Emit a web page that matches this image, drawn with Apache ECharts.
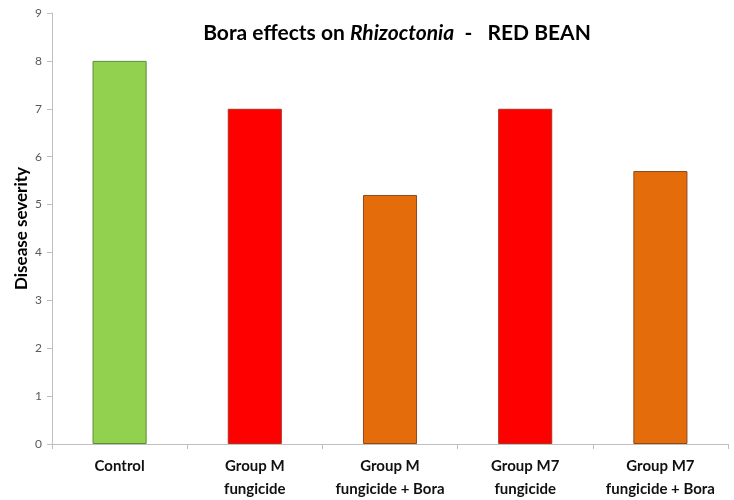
<!DOCTYPE html>
<html><head><meta charset="utf-8">
<script src="https://cdn.jsdelivr.net/npm/echarts@6/dist/echarts.min.js"></script>
<style>html,body{margin:0;padding:0;background:#fff}#c{width:734px;height:500px}</style>
</head><body><div id="c"></div>
<script>
const categories = ['Control', 'Group M\nfungicide', 'Group M\nfungicide + Bora', 'Group M7\nfungicide', 'Group M7\nfungicide + Bora'];
const severity = [8, 7, 5.2, 7, 5.7];
const barColors = ['#92D050', '#FF0000', '#E46C0A', '#FF0000', '#E46C0A'];
const borderColors = ['#5E8A34', '#B03020', '#8A4A1E', '#B03020', '#8A4A1E'];
const yTicks = [0, 9, 1];

const chart = echarts.init(document.getElementById('c'));
chart.setOption({
  animation: false,
  backgroundColor: '#fff',
  textStyle: { fontFamily: 'Lato' },
  title: {
    text: '{b|Bora effects on }{i|Rhizoctonia}{b|  -   RED BEAN}',
    left: 392, top: 18, textAlign: 'center',
    textStyle: {
      rich: {
        b: { fontSize: 21, fontWeight: 'bold', color: '#000', fontFamily: 'Lato' },
        i: { fontSize: 21, fontWeight: 'bold', fontStyle: 'italic', color: '#000', fontFamily: 'Lato' }
      }
    }
  },
  grid: { left: 52, right: 6, top: 13, bottom: 56, containLabel: false, outerBoundsMode: 'none' },
  xAxis: {
    type: 'category',
    data: categories,
    axisLine: { lineStyle: { color: '#BFBFBF', width: 1 } },
    axisTick: { show: true, length: 5, lineStyle: { color: '#BFBFBF' } },
    axisLabel: { color: '#111', fontWeight: 'bold', fontSize: 15, lineHeight: 23, margin: 11, interval: 0, fontFamily: 'Lato' }
  },
  yAxis: {
    type: 'value',
    min: yTicks[0], max: yTicks[1], interval: yTicks[2],
    name: 'Disease severity',
    nameLocation: 'middle', nameGap: 22, nameMoveOverlap: false,
    nameTextStyle: { fontSize: 17, fontWeight: 'bold', color: '#000', fontFamily: 'Lato' },
    axisLine: { show: true, lineStyle: { color: '#BFBFBF' } },
    axisTick: { show: true, length: 5, lineStyle: { color: '#BFBFBF' } },
    splitLine: { show: false },
    axisLabel: { color: '#595959', fontSize: 12, margin: 10 }
  },
  series: [{
    type: 'bar',
    barWidth: '40%',
    data: severity.map((v, i) => ({
      value: v,
      itemStyle: { color: barColors[i], borderColor: borderColors[i], borderWidth: 1 }
    }))
  }]
});
</script></body></html>
